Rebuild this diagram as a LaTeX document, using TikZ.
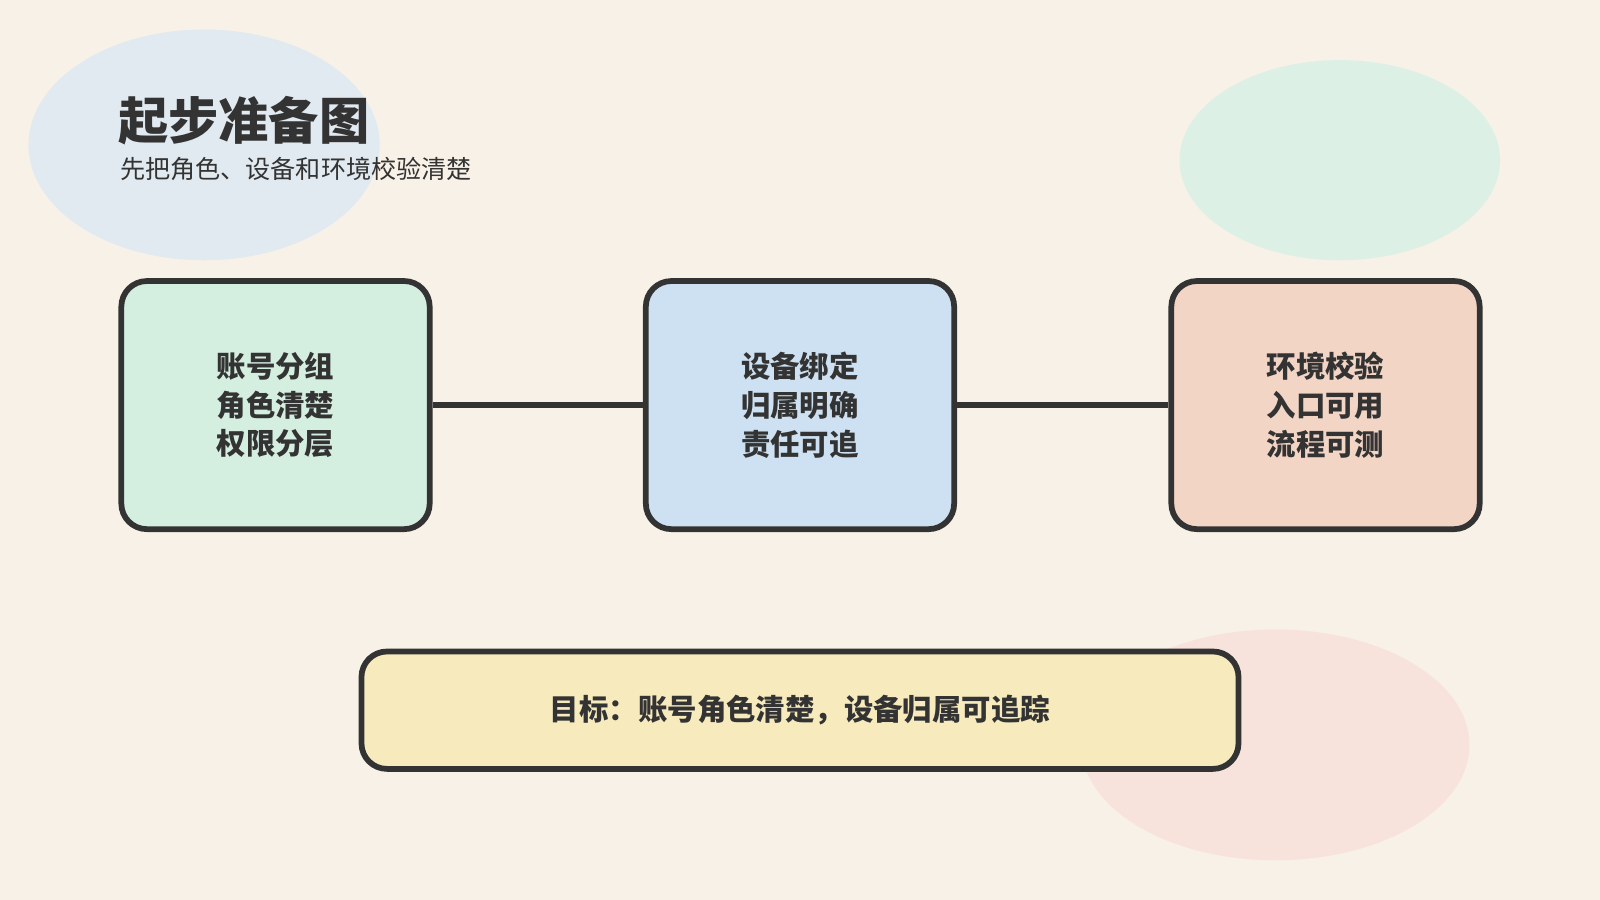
\documentclass[tikz,border=0pt]{standalone}
\usepackage{fontspec}
\newfontfamily\cjk{Noto Sans CJK SC}
\usepackage{tikz}
\definecolor{bgpaper}{HTML}{F8F1E7}
\definecolor{inkdark}{HTML}{333333}
\definecolor{blobblue}{HTML}{E1EAF0}
\definecolor{blobgreen}{HTML}{DDF0E6}
\definecolor{blobpink}{HTML}{F7E3DC}
\definecolor{fillgreen}{HTML}{D4EEE0}
\definecolor{fillblue}{HTML}{CDE1F2}
\definecolor{fillpeach}{HTML}{F3D5C6}
\definecolor{fillsand}{HTML}{F7EABD}

\begin{document}
\begin{tikzpicture}[x=0.01cm, y=-0.01cm]
        \tikzstyle{card} = [draw=inkdark, line width=1.6pt, rounded corners=0.25cm, minimum width=3.02cm, minimum height=2.43cm, align=center, text=inkdark, font=\cjk\bfseries\fontsize{8.2}{10.8}\selectfont]
        \tikzstyle{link} = [draw=inkdark, line width=1.6pt]
        \fill[bgpaper] (0,0) rectangle (1568,882);
        \useasboundingbox (0,0) rectangle (1568,882);
        % background blobs
        \fill[blobblue] (200,142) ellipse [x radius=1.72cm, y radius=1.13cm];
        \fill[blobgreen] (1313,157) ellipse [x radius=1.57cm, y radius=0.98cm];
        \fill[blobpink] (1250,730) ellipse [x radius=1.9cm, y radius=1.13cm];
        % title
        \node[anchor=west, inner sep=0, text=inkdark, font=\cjk\bfseries\fontsize{14}{16}\selectfont] (title) at (115,118) {起步准备图};
        \node[anchor=west, inner sep=0, text=inkdark, font=\cjk\fontsize{7}{8}\selectfont] (subtitle) at (117,166) {先把角色、设备和环境校验清楚};
        % cards
        \node[card, fill=fillgreen] (A) at (270,397) {账号分组\\角色清楚\\权限分层};
        \node[card, fill=fillblue] (B) at (784,397) {设备绑定\\归属明确\\责任可追};
        \node[card, fill=fillpeach] (C) at (1299,397) {环境校验\\入口可用\\流程可测};
        \path[link] (A) -- (B);
        \path[link] (B) -- (C);
        \node[card, fill=fillsand, minimum width=8.59cm, minimum height=1.15cm] (goal) at (784,696) {目标：账号角色清楚，设备归属可追踪};
    \end{tikzpicture}
\end{document}
